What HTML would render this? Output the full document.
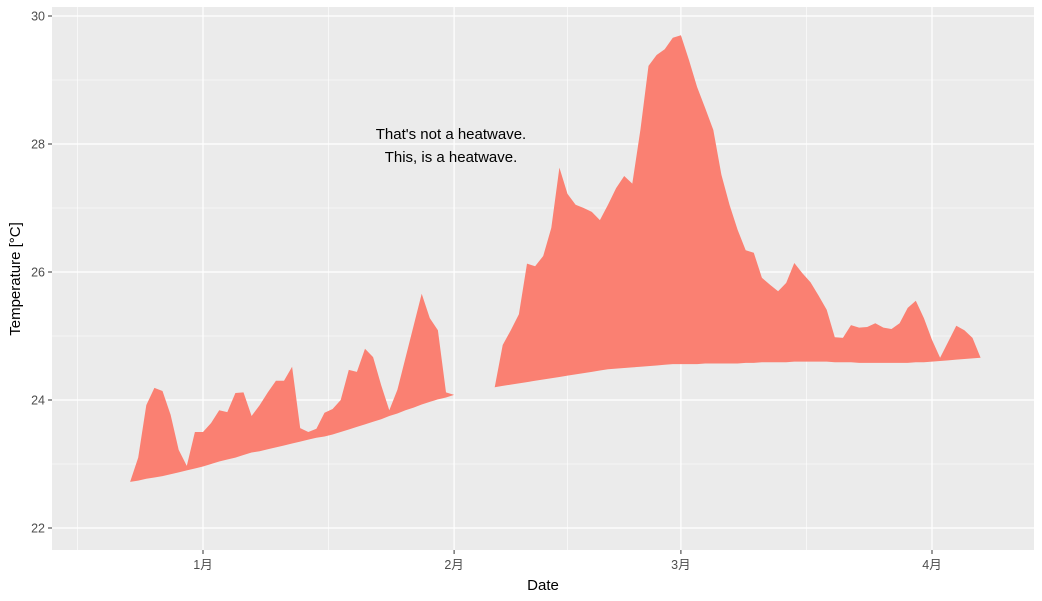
<!DOCTYPE html>
<html><head><meta charset="utf-8">
<style>
html,body{margin:0;padding:0;background:#fff;}
svg{display:block;font-family:"Liberation Sans","Noto Sans CJK SC",sans-serif;}
</style></head>
<body>
<svg id="chart" width="1042" height="601"></svg>
<script>
const seg1Days = [];
for (let d = -9; d <= 31; d++) seg1Days.push(d);
const seg1Upper = [22.72,23.1,23.92,24.19,24.14,23.77,23.22,22.97,23.5,23.5,23.64,23.84,23.81,24.11,24.12,23.75,23.92,24.12,24.3,24.3,24.52,23.56,23.5,23.55,23.8,23.86,24.0,24.47,24.44,24.8,24.67,24.23,23.84,24.16,24.66,25.16,25.66,25.28,25.09,24.12,24.08];
const seg1Lower = [22.72,22.74,22.77,22.79,22.81,22.84,22.87,22.90,22.93,22.96,23.00,23.04,23.07,23.10,23.14,23.18,23.20,23.23,23.26,23.29,23.32,23.35,23.38,23.41,23.43,23.46,23.50,23.54,23.58,23.62,23.66,23.70,23.75,23.79,23.84,23.88,23.93,23.97,24.01,24.04,24.08];
const seg2Days = [];
for (let d = 36; d <= 96; d++) seg2Days.push(d);
const seg2Upper = [24.19,24.86,25.09,25.34,26.13,26.09,26.25,26.69,27.63,27.22,27.05,27.0,26.94,26.81,27.05,27.31,27.5,27.38,28.22,29.22,29.39,29.48,29.66,29.7,29.31,28.89,28.56,28.22,27.52,27.05,26.66,26.34,26.3,25.91,25.8,25.7,25.83,26.14,25.98,25.84,25.63,25.41,24.98,24.97,25.17,25.13,25.14,25.2,25.13,25.11,25.2,25.44,25.55,25.28,24.94,24.66,24.91,25.16,25.09,24.97,24.66];
const seg2Lower = [24.20,24.22,24.24,24.26,24.28,24.30,24.32,24.34,24.36,24.38,24.40,24.42,24.44,24.46,24.48,24.49,24.50,24.51,24.52,24.53,24.54,24.55,24.56,24.56,24.56,24.56,24.57,24.57,24.57,24.57,24.57,24.58,24.58,24.59,24.59,24.59,24.59,24.60,24.60,24.60,24.60,24.60,24.59,24.59,24.59,24.58,24.58,24.58,24.58,24.58,24.58,24.58,24.59,24.59,24.60,24.61,24.62,24.63,24.64,24.65,24.66];
const yTicks = [22,24,26,28,30];
const yMinor = [23,25,27,29];
const xTickDays = [0,31,59,90];
const xTickLabels = ["1月","2月","3月","4月"];
const xMinorDays = [-15.5,15.5,45,74.5];

const svg = document.getElementById('chart');
const NS = 'http://www.w3.org/2000/svg';
const P = {l:52, r:1034, t:7, b:550};
const xS = d => 203 + d * (932 - 203) / 90;
const yS = v => 400 - (v - 24) * 64;
function mk(tag, attrs, parent) {
  const e = document.createElementNS(NS, tag);
  for (const k in attrs) e.setAttribute(k, attrs[k]);
  (parent || svg).appendChild(e);
  return e;
}
const panel = mk('rect', {x:P.l, y:P.t, width:P.r-P.l, height:P.b-P.t, fill:'#ebebeb'});



yMinor.forEach(v => {
  const l = mk('line', {x1:P.l, x2:P.r, y1:yS(v), y2:yS(v), stroke:'#fff', 'stroke-width':0.6});
  
  
});
xMinorDays.forEach(d => {
  const l = mk('line', {x1:xS(d), x2:xS(d), y1:P.t, y2:P.b, stroke:'#fff', 'stroke-width':0.6});
  
  
});
yTicks.forEach(v => {
  const l = mk('line', {x1:P.l, x2:P.r, y1:yS(v), y2:yS(v), stroke:'#fff', 'stroke-width':1.2});
  
  
  const t = mk('line', {x1:P.l-4, x2:P.l, y1:yS(v), y2:yS(v), stroke:'#333', 'stroke-width':1});
  
  
  const tx = mk('text', {x:P.l-7, y:yS(v)+4.5, 'text-anchor':'end', 'font-size':12.5, fill:'#4d4d4d'});
  tx.textContent = v;
  
  
});
xTickDays.forEach((d, i) => {
  const l = mk('line', {x1:xS(d), x2:xS(d), y1:P.t, y2:P.b, stroke:'#fff', 'stroke-width':1.2});
  
  
  const t = mk('line', {x1:xS(d), x2:xS(d), y1:P.b, y2:P.b+4, stroke:'#333', 'stroke-width':1});
  
  
  const tx = mk('text', {x:xS(d), y:P.b+19, 'text-anchor':'middle', 'font-size':12.5, fill:'#4d4d4d'});
  tx.textContent = xTickLabels[i];
  
  
});
function ribbon(days, up, lo, name) {
  let pts = days.map((d, i) => xS(d) + ',' + yS(up[i]));
  for (let i = days.length - 1; i >= 0; i--) pts.push(xS(days[i]) + ',' + yS(lo[i]));
  const p = mk('polygon', {points:pts.join(' '), fill:'#fa8072'});
  
  
}
ribbon(seg1Days, seg1Upper, seg1Lower, 'heatwave-ribbon-early');
ribbon(seg2Days, seg2Upper, seg2Lower, 'heatwave-ribbon-late');

const a1 = mk('text', {x:451, y:139, 'text-anchor':'middle', 'font-size':15, fill:'#000'});
a1.textContent = "That's not a heatwave.";


const a2 = mk('text', {x:451, y:162, 'text-anchor':'middle', 'font-size':15, fill:'#000'});
a2.textContent = "This, is a heatwave.";



const xt = mk('text', {x:543, y:590, 'text-anchor':'middle', 'font-size':15, fill:'#000'});
xt.textContent = 'Date';


const yt = mk('text', {x:0, y:0, 'text-anchor':'middle', 'font-size':15, fill:'#000', transform:'translate(20,279) rotate(-90)'});
yt.textContent = 'Temperature [°C]';


</script>
</body></html>
